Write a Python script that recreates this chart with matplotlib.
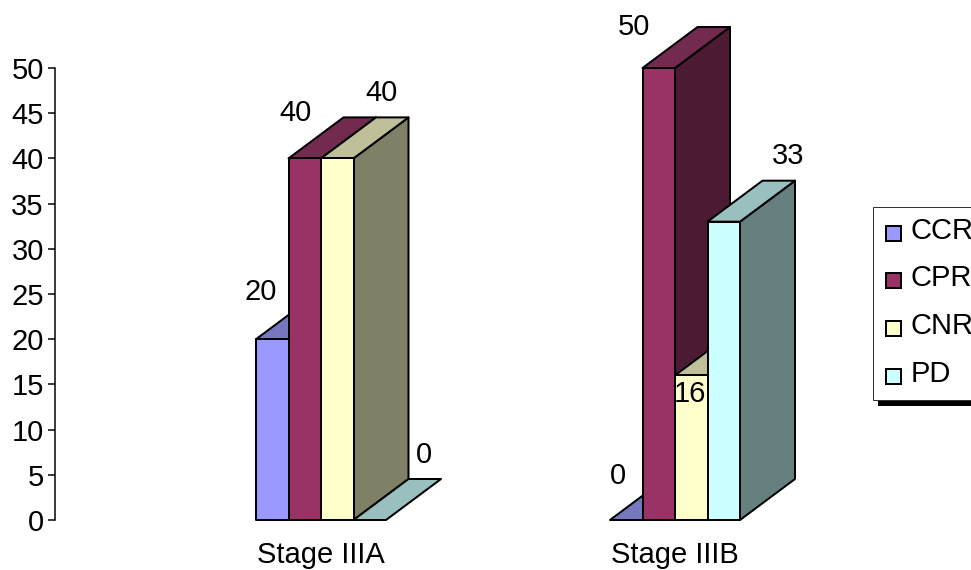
import matplotlib
matplotlib.use("Agg")
import matplotlib.pyplot as plt
from matplotlib.patches import Polygon, Rectangle

plt.rcParams['font.family'] = ['Liberation Sans', 'DejaVu Sans']

categories = ["Stage IIIA", "Stage IIIB"]
series_names = ["CCR", "CPR", "CNR", "PD"]
series_values = [[20, 0], [40, 50], [40, 16], [0, 33]]
front_colors = ["#9999FF", "#993366", "#FFFFCC", "#CCFFFF"]
top_colors = ["#7777BF", "#732A4F", "#BFBF99", "#99BFBF"]
side_colors = ["#4D4D80", "#4D1A33", "#808066", "#668080"]
yticks = list(range(0, 55, 5))

# pixel offsets of the value labels from the front top left corner of each bar
label_offsets = {
    (0, 0): (5, 47), (1, 0): (7, 45), (2, 0): (60, 65), (3, 0): (70, 65),
    (0, 1): (8, 44), (1, 1): (-9, 41), (2, 1): (15, -19), (3, 1): (81, 66),
}

W, H = 971, 570
PX = 72 / 100  # points per pixel
BAR_W = 32.5 / 354
DEPTH_X = 55 / 354
DEPTH_Y = 41 / 9.04
LW = 2 * PX
FS = 21

fig = plt.figure(figsize=(W / 100, H / 100), dpi=100)

# full figure layer for the legend, in pixels
overlay = fig.add_axes([0, 0, 1, 1])
overlay.set_xlim(0, W)
overlay.set_ylim(H, 0)
overlay.axis("off")

# y axis runs from pixel 520 up to 68, one category step is 354 pixels
ax = fig.add_axes([55 / W, (H - 520) / H, 800 / W, 452 / H])
ax.set_xlim((55 - 321) / 354, (855 - 321) / 354)
ax.set_ylim(0, 50)
ax.patch.set_alpha(0)
for s in ["top", "right", "bottom"]:
    ax.spines[s].set_visible(False)
ax.spines["left"].set_linewidth(LW * 0.75)
ax.set_yticks(yticks)
ax.set_xticks(range(len(categories)))
ax.set_xticklabels(categories)
ax.tick_params(axis="y", labelsize=FS, length=7 * PX, width=LW * 0.75, pad=3)
ax.tick_params(axis="x", labelsize=FS, length=0, pad=15)


def draw_bar(x, v, i):
    kw = dict(edgecolor="black", linewidth=LW, joinstyle="round", clip_on=False)
    if v > 0:
        ax.add_patch(Polygon([(x + BAR_W, 0), (x + BAR_W + DEPTH_X, DEPTH_Y),
                              (x + BAR_W + DEPTH_X, v + DEPTH_Y), (x + BAR_W, v)],
                             facecolor=side_colors[i], **kw))
    ax.add_patch(Polygon([(x, v), (x + BAR_W, v), (x + BAR_W + DEPTH_X, v + DEPTH_Y),
                          (x + DEPTH_X, v + DEPTH_Y)],
                         facecolor=top_colors[i], **kw))
    if v > 0:
        ax.add_patch(Rectangle((x, 0), BAR_W, v, facecolor=front_colors[i], **kw))


for c in range(len(categories)):
    for i in range(len(series_names)):
        x = c + (i - 2) * BAR_W
        draw_bar(x, series_values[i][c], i)

for c in range(len(categories)):
    for i in range(len(series_names)):
        x = c + (i - 2) * BAR_W
        v = series_values[i][c]
        dx, dy = label_offsets[(i, c)]
        ax.annotate(str(v), (x, v), xytext=(dx * PX, dy * PX),
                    textcoords="offset points", ha="center", va="center",
                    fontsize=FS, annotation_clip=False)

# legend, cut off by the right edge like the original
overlay.add_patch(Rectangle((878, 400), 110, 6, facecolor="black", edgecolor="none"))
overlay.add_patch(Rectangle((873, 207), 120, 193, facecolor="white", edgecolor="#333333",
                            linewidth=1 * PX))
legend_y = [233, 280, 328, 376]
for name, col, y in zip(series_names, front_colors, legend_y):
    overlay.add_patch(Rectangle((885.5, y - 7.5), 15, 15, facecolor=col,
                                edgecolor="black", linewidth=LW))
    overlay.text(911, y - 2, name, fontsize=FS, va="center", ha="left")

fig.savefig("out.png", dpi=100)
